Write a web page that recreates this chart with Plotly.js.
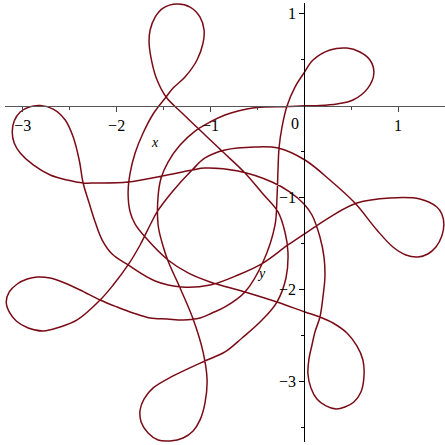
<!DOCTYPE html>
<html>
<head>
<meta charset="utf-8">
<script src="https://cdn.plot.ly/plotly-3.0.1.min.js"></script>
<style>
html,body{margin:0;padding:0;background:#fff;}
#chart{width:445px;height:445px;}
</style>
</head>
<body>
<div id="chart"></div>
<script>
// Parametric curve, in data units, in drawing order
const curveX = [
-0.184,-0.099,-0.003,0.093,0.274,0.455,0.593,0.700,0.742,0.678,0.519,0.348,0.167,0.000,
-0.184,-0.504,-0.706,-0.845,-1.004,-1.164,-1.324,-1.452,-1.526,-1.558,-1.558,-1.515,-1.452,
-1.324,-1.185,-1.079,
-1.036,-1.058,-1.111,-1.185,-1.292,-1.430,-1.558,-1.665,-1.739,-1.750,-1.707,-1.611,-1.398,
-1.036,-0.845,-0.663,-0.450,-0.291,-0.195,-0.174,-0.206,-0.280,-0.440,-0.632,-0.866,-1.058,
-1.292,-1.473,
-1.569,-1.622,-1.654,-1.643,-1.590,-1.505,-1.356,-1.217,-1.111,-1.068,-1.079,-1.143,-1.271,
-1.398,-1.473,-1.611,-1.718,-1.803,-1.856,-1.878,-1.856,-1.803,-1.696,-1.452,-1.239,-1.004,
-0.632,-0.291,0.007,0.167,0.306,0.455,0.561,
0.625,0.636,0.604,0.529,0.433,0.338,0.231,0.135,0.071,0.039,0.050,0.082,0.114,0.167,0.199,
0.220,0.210,0.167,0.082,-0.003,-0.152,-0.344,-0.706,-1.058,-1.196,-1.515,-1.878,-2.229,
-2.357,-2.527,-2.708,
-2.889,-3.028,-3.092,-3.113,-3.092,-3.028,-2.932,-2.815,-2.676,-2.548,-2.463,-2.399,-2.357,
-2.293,-2.229,-2.154,-2.048,-1.878,-1.590,-1.302,-1.004,-0.706,-0.440,-0.174,0.114,0.274,
0.561,0.913,1.232,
1.413,1.466,1.488,1.466,1.403,1.317,1.211,1.083,0.945,0.774,0.540,0.274,0.007,-0.280,-0.525,
-0.845,-1.058,-1.196,-1.409,-1.569,-1.643,-1.750,-1.878,-2.037,-2.176,
-2.421,-2.602,-2.783,-2.943,-3.070,-3.145,-3.177,-3.145,-3.060,-2.953,-2.847,-2.708,-2.580,
-2.389,-2.176,-1.995,-1.824,-1.643,-1.462,-1.292,-1.111,-0.983,-0.845,-0.632,-0.440,-0.312,
-0.291,-0.280,-0.269,-0.237,-0.184
];
const curveY = [
-0.002,0.204,0.357,0.498,0.607,0.628,0.585,0.498,0.357,0.193,0.063,0.020,0.003,0.000,
-0.008,-0.018,-0.057,-0.100,-0.176,-0.274,-0.426,-0.611,-0.785,-0.980,-1.296,-1.491,-1.687,
-1.980,-2.317,-2.676,
-2.980,-3.230,-3.415,-3.535,-3.611,-3.643,-3.633,-3.557,-3.437,-3.307,-3.187,-3.067,-2.937,
-2.763,-2.676,-2.524,-2.328,-2.133,-1.872,-1.589,-1.372,-1.154,-0.959,-0.730,-0.502,-0.317,
-0.089,0.096,
0.280,0.465,0.683,0.824,0.965,1.063,1.107,1.074,0.965,0.824,0.683,0.498,0.313,
0.193,0.096,-0.089,-0.296,-0.513,-0.730,-0.948,-1.154,-1.285,-1.426,-1.676,-1.817,-1.915,
-2.024,-2.133,-2.241,-2.296,-2.361,-2.470,-2.611,
-2.763,-2.948,-3.111,-3.220,-3.274,-3.296,-3.263,-3.187,-3.067,-2.915,-2.752,-2.600,-2.459,-2.296,-2.078,
-1.861,-1.643,-1.426,-1.187,-1.067,-0.937,-0.828,-0.709,-0.676,-0.698,-0.763,-0.828,-0.839,
-0.839,-0.807,-0.752,
-0.643,-0.513,-0.404,-0.285,-0.165,-0.067,-0.013,0.003,-0.035,-0.154,-0.339,-0.589,-0.839,
-1.057,-1.263,-1.459,-1.611,-1.730,-1.904,-1.970,-1.948,-1.839,-1.709,-1.513,-1.317,-1.209,
-1.057,-1.002,-1.013,
-1.100,-1.176,-1.285,-1.415,-1.535,-1.611,-1.643,-1.622,-1.535,-1.350,-1.057,-0.807,-0.589,-0.459,-0.448,
-0.480,-0.567,-0.698,-0.937,-1.154,-1.296,-1.513,-1.730,-1.948,-2.111,
-2.328,-2.404,-2.448,-2.415,-2.339,-2.241,-2.133,-2.024,-1.937,-1.883,-1.861,-1.872,-1.915,
-2.002,-2.111,-2.187,-2.252,-2.307,-2.317,-2.328,-2.307,-2.252,-2.187,-2.024,-1.698,-1.296,
-1.002,-0.698,-0.459,-0.230,-0.002
];

const xRange = [-3.19, 1.50];
const yRange = [-3.655, 1.118];
const xTicks = [-3, -2, -1, 1];
const yTicks = [-3, -2, -1, 1];
const xMinor = [-2.5, -1.5, -0.5, 0.5];
const yMinor = [-3.5, -2.5, -1.5, -0.5, 0.5];
const xTickText = ['\u22123', '\u22122', '\u22121', '1'];
const yTickText = ['\u22123', '\u22122', '\u22121', '1'];
const originLabel = '0';
const xAxisLabel = 'x';
const yAxisLabel = 'y';
const xLabelPos = [-1.59, -0.40];
const yLabelPos = [-0.46, -1.82];

const curveColor = '#7a0b16';
const serif = 'Times New Roman';

const xPos = (0 - yRange[0]) / (yRange[1] - yRange[0]);
const yPos = (0 - xRange[0]) / (xRange[1] - xRange[0]);

const trace = {
  x: curveX, y: curveY, type: 'scatter', mode: 'lines',
  line: {color: curveColor, width: 1.5, shape: 'spline', smoothing: 1},
  hoverinfo: 'skip', showlegend: false
};

const layout = {
  width: 445, height: 445,
  margin: {l: 5, r: 0, t: 3, b: 3},
  paper_bgcolor: '#fff', plot_bgcolor: '#fff',
  showlegend: false,
  font: {family: serif},
  xaxis: {
    range: xRange, anchor: 'free', position: xPos,
    showgrid: false, zeroline: false, showline: true, linecolor: '#555', linewidth: 1.2,
    tickmode: 'array', tickvals: xTicks, ticktext: xTickText,
    ticks: 'outside', ticklen: 5, tickcolor: '#444', tickwidth: 1,
    minor: {tickmode: 'array', tickvals: xMinor, ticks: 'outside', ticklen: 3, tickcolor: '#444'},
    tickfont: {family: serif, size: 16, color: '#000'},
    fixedrange: true
  },
  yaxis: {
    range: yRange, anchor: 'free', position: yPos,
    showgrid: false, zeroline: false, showline: true, linecolor: '#000', linewidth: 1.2,
    tickmode: 'array', tickvals: yTicks, ticktext: yTickText,
    ticks: 'outside', ticklen: 5, tickcolor: '#000', tickwidth: 1,
    minor: {tickmode: 'array', tickvals: yMinor, ticks: 'outside', ticklen: 3, tickcolor: '#000'},
    tickfont: {family: serif, size: 16, color: '#000'},
    fixedrange: true
  },
  annotations: [
    {x: 0, y: 0, xref: 'x', yref: 'y', text: originLabel, showarrow: false,
     xanchor: 'right', yanchor: 'top', xshift: -3, yshift: -7,
     font: {family: serif, size: 16, color: '#000'}},
    {x: xLabelPos[0], y: xLabelPos[1], xref: 'x', yref: 'y', text: '<i>' + xAxisLabel + '</i>',
     showarrow: false, font: {family: serif, size: 14, color: '#000'}},
    {x: yLabelPos[0], y: yLabelPos[1], xref: 'x', yref: 'y', text: '<i>' + yAxisLabel + '</i>',
     showarrow: false, font: {family: serif, size: 14, color: '#000'}}
  ]
};

Plotly.newPlot('chart', [trace], layout, {displayModeBar: false, staticPlot: true});
</script>
</body>
</html>
